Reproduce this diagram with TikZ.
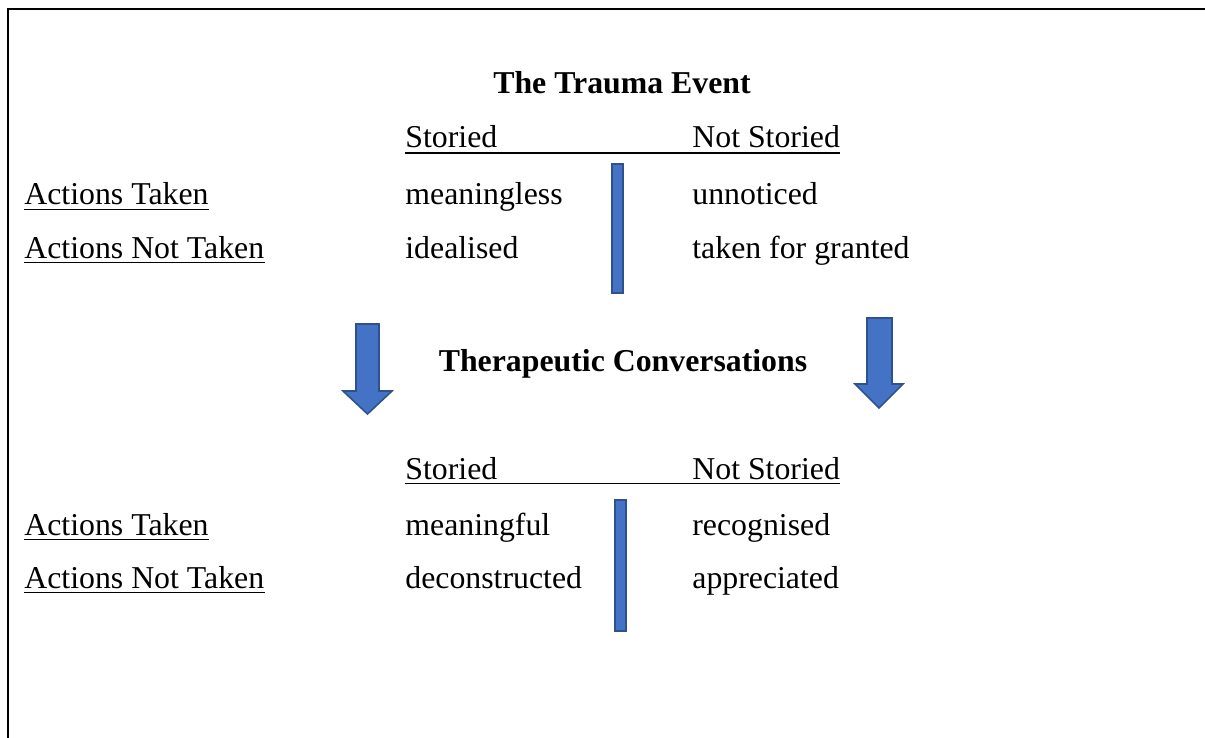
\documentclass[tikz,border=0pt]{standalone}
\usepackage{fontspec}
\setmainfont{Liberation Serif}
\definecolor{barblue}{HTML}{4472C4}
\definecolor{baredge}{HTML}{2F528F}
\begin{document}
\begin{tikzpicture}[x=0.5pt,y=-0.5pt,
	lbl/.style={anchor=base west,inner sep=0pt,font=\fontsize{15.9}{19}\selectfont},
	ttl/.style={anchor=base,inner sep=0pt,font=\fontsize{15.9}{19}\selectfont\bfseries},
	uline/.style={line width=0.85pt},
	bar/.style={fill=barblue,draw=baredge,line width=0.6pt},
	downarrow/.style={fill=barblue,draw=baredge,line width=0.8pt,line join=miter}]
				\useasboundingbox (0,0) rectangle (1205,738);
				\draw[line width=1.2pt] (8,738) -- (8,9) -- (1205,9);
				
				% the trauma event
				\node[ttl] (event) at (622,94) {The Trauma Event};
				\node[lbl] (stA) at (405,148) {Storied};
				\node[lbl] (nstA) at (692,148) {Not Storied};
				\draw[uline] ([yshift=-2.4pt]stA.base west) -- ([yshift=-2.4pt]nstA.base east);
				
				\node[lbl] (takenA) at (24,205) {Actions Taken};
				\node[lbl] (nottakenA) at (24,258) {Actions Not Taken};
				\draw[uline] ([yshift=-2.2pt]takenA.base west) -- ([yshift=-2.2pt]takenA.base east);
				\draw[uline] ([yshift=-2.2pt]nottakenA.base west) -- ([yshift=-2.2pt]nottakenA.base east);
				
				\node[lbl] (meaningless) at (405,205) {meaningless};
				\node[lbl] (idealised) at (405,258) {idealised};
				\node[lbl] (unnoticed) at (692,205) {unnoticed};
				\node[lbl] (granted) at (692,258) {taken for granted};
				
				\draw[bar] (612,164) rectangle (623,293);
				
				% therapeutic conversations
				\node[ttl] (therapy) at (623,371) {Therapeutic Conversations};
				\draw[downarrow] (356,324) -- (379,324) -- (379,391) -- (392,391) -- (367.5,414) -- (343,391) -- (356,391) -- cycle;
				\draw[downarrow] (867,318) -- (892,318) -- (892,384) -- (903,384) -- (879,408) -- (855,384) -- (867,384) -- cycle;
				
				% after
				\node[lbl] (stB) at (405,479) {Storied};
				\node[lbl] (nstB) at (692,479) {Not Storied};
				\draw[uline] ([yshift=-2.2pt]stB.base west) -- ([yshift=-2.2pt]nstB.base east);
				
				\node[lbl] (takenB) at (24,535) {Actions Taken};
				\node[lbl] (nottakenB) at (24,588) {Actions Not Taken};
				\draw[uline] ([yshift=-2.2pt]takenB.base west) -- ([yshift=-2.2pt]takenB.base east);
				\draw[uline] ([yshift=-2.2pt]nottakenB.base west) -- ([yshift=-2.2pt]nottakenB.base east);
				
				\node[lbl] (meaningful) at (405,535) {meaningful};
				\node[lbl] (deconstructed) at (405,588) {deconstructed};
				\node[lbl] (recognised) at (692,535) {recognised};
				\node[lbl] (appreciated) at (692,588) {appreciated};
				
				\draw[bar] (615,500) rectangle (626,631);
\end{tikzpicture}
\end{document}
